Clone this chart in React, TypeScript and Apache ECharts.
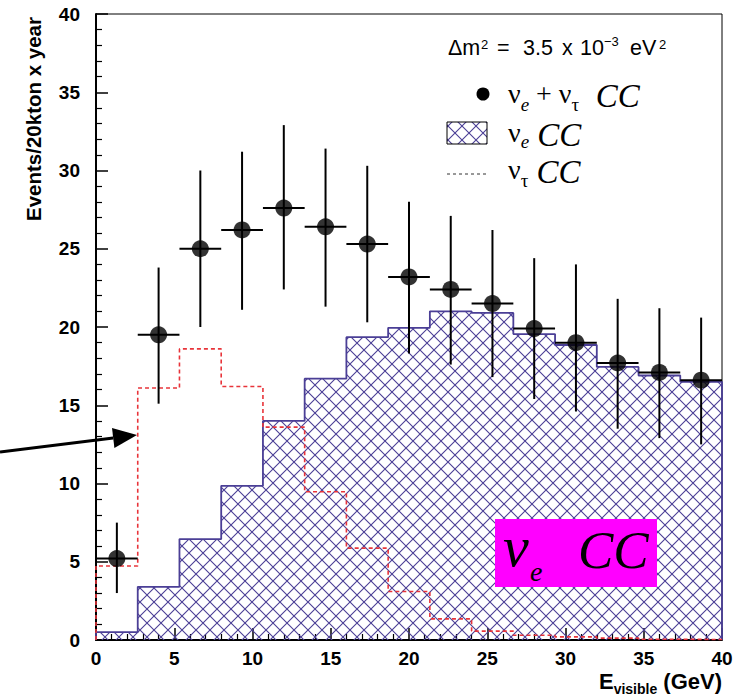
import React, { useEffect, useRef } from "react";
import * as echarts from "echarts";

// Bin structure (E_visible, GeV): 15 bins from 0 to 40
const binEdges = [0, 2.667, 5.333, 8, 10.667, 13.333, 16, 18.667, 21.333, 24, 26.667, 29.333, 32, 34.667, 37.333, 40];
const binCenters = [1.333, 4, 6.667, 9.333, 12, 14.667, 17.333, 20, 22.667, 25.333, 28, 30.667, 33.333, 36, 38.667];

// nu_e + nu_tau CC (points with error bars)
const totalValues = [5.2, 19.5, 25.0, 26.2, 27.6, 26.4, 25.3, 23.2, 22.4, 21.5, 19.9, 19.0, 17.7, 17.1, 16.6];
const totalErrLow = [3.0, 15.1, 20.0, 21.1, 22.4, 21.3, 20.3, 18.3, 17.6, 16.8, 15.4, 14.6, 13.5, 12.9, 12.5];
const totalErrHigh = [7.5, 23.8, 30.0, 31.2, 32.9, 31.4, 30.3, 28.0, 27.1, 26.2, 24.4, 24.0, 21.8, 21.2, 20.6];

// nu_e CC (hatched histogram)
const nueCC = [0.5, 3.4, 6.45, 9.85, 14.0, 16.7, 19.35, 19.95, 21.0, 20.9, 19.55, 18.85, 17.45, 16.9, 16.5];
// nu_tau CC (red dashed histogram)
const nutauCC = [4.73, 16.1, 18.6, 16.2, 13.6, 9.47, 5.87, 3.1, 1.35, 0.57, 0.3, 0.2, 0.12, 0.05, 0.03];

const xTicks = [0, 5, 10, 15, 20, 25, 30, 35, 40];
const yTicks = [0, 5, 10, 15, 20, 25, 30, 35, 40];

const HATCH = "#4b3f96";
const RED = "#e8343a";

function stepData(vals: number[]) {
  const d: number[][] = [[binEdges[0], 0]];
  vals.forEach((v, i) => d.push([binEdges[i], v]));
  d.push([binEdges[binEdges.length - 1], vals[vals.length - 1]]);
  d.push([binEdges[binEdges.length - 1], 0]);
  return d;
}

function makeHatch() {
  const s = 14;
  const c = document.createElement("canvas");
  c.width = s;
  c.height = s;
  const ctx = c.getContext("2d")!;
  ctx.strokeStyle = HATCH;
  ctx.lineWidth = 1.1;
  for (const o of [-s, 0, s]) {
    ctx.beginPath();
    ctx.moveTo(o, 0);
    ctx.lineTo(o + s, s);
    ctx.moveTo(o, s);
    ctx.lineTo(o + s, 0);
    ctx.stroke();
  }
  return c;
}

export default function App() {
  const ref = useRef<HTMLDivElement>(null);
  useEffect(() => {
    document.body.style.margin = "0";
    const chart = echarts.init(ref.current!, undefined, { renderer: "svg" });
    const hatchCanvas = makeHatch();
    const pattern: any = { image: hatchCanvas, repeat: "repeat", imageWidth: 14, imageHeight: 14 };

    const errData = binCenters.map((x, i) => [x, totalValues[i], totalErrLow[i], totalErrHigh[i], binEdges[i], binEdges[i + 1]]);
    const pointData = binCenters.map((x, i) => [x, totalValues[i]]);

    const serif = "'Liberation Serif', 'Times New Roman', serif";
    const sans = "'Liberation Sans', Arial, sans-serif";

    const legendRich = {
      n: { fontFamily: serif, fontSize: 28, lineHeight: 28, verticalAlign: "top", color: "#000" },
      s: { fontFamily: serif, fontStyle: "italic", fontSize: 19, lineHeight: 46, color: "#000" },
      g: { fontFamily: serif, fontSize: 19, lineHeight: 50, color: "#000" },
      c: { fontFamily: serif, fontStyle: "italic", fontSize: 33, lineHeight: 28, verticalAlign: "top", color: "#000" },
    };

    const dmTokens: [string, number, number, number][] = [
      ["Δm", 448, 47.5, 21.5],
      ["2", 481, 44, 13],
      ["=", 497, 47.5, 21.5],
      ["3.5", 523, 47.5, 21.5],
      ["x", 562, 47.5, 21.5],
      ["10", 580, 47.5, 21.5],
      ["−3", 604, 41.5, 13],
      ["eV", 630, 47.5, 21.5],
      ["2", 659, 44, 13],
    ];

    const arrowTip = [137, 435];
    const arrowBaseC = [113.2, 438];

    const option: any = {
      animation: false,
      backgroundColor: "#fff",
      grid: { left: 96, right: 20, top: 14, bottom: 58, show: true, borderColor: "#000", borderWidth: 1, backgroundColor: "transparent" },
      xAxis: {
        type: "value",
        min: 0,
        max: 40,
        interval: 5,
        axisLine: { show: true, lineStyle: { color: "#000", width: 2 } },
        axisTick: { show: true, inside: true, length: 12, lineStyle: { color: "#000", width: 1.5 } },
        minorTick: { show: true, splitNumber: 5, length: 6, lineStyle: { color: "#000", width: 1.2 } },
        splitLine: { show: false },
        axisLabel: {
          color: "#000",
          fontWeight: "bold",
          fontSize: 19,
          lineHeight: 19,
          fontFamily: sans,
          margin: 9,
          formatter: (v: number) => (xTicks.includes(v) ? String(v) : ""),
        },
      },
      yAxis: {
        type: "value",
        min: 0,
        max: 40,
        interval: 5,
        axisLine: { show: true, lineStyle: { color: "#000", width: 2 } },
        axisTick: { show: true, inside: true, length: 12, lineStyle: { color: "#000", width: 1.5 } },
        minorTick: { show: true, splitNumber: 5, length: 6, lineStyle: { color: "#000", width: 1.2 } },
        splitLine: { show: false },
        axisLabel: {
          color: "#000",
          fontWeight: "bold",
          fontSize: 19,
          fontFamily: sans,
          margin: 16,
          formatter: (v: number) => (yTicks.includes(v) ? String(v) : ""),
        },
      },
      series: [
        {
          name: "nue",
          type: "line",
          step: "end",
          data: stepData(nueCC),
          symbol: "none",
          showSymbol: false,
          lineStyle: { color: HATCH, width: 1.8 },
          areaStyle: { color: pattern, opacity: 1 },
          z: 2,
        },
        {
          name: "nutau",
          type: "line",
          step: "end",
          data: stepData(nutauCC),
          symbol: "none",
          showSymbol: false,
          lineStyle: { color: RED, width: 1.6, type: [4, 3] },
          z: 3,
        },
        {
          name: "err",
          type: "custom",
          data: errData,
          z: 4,
          renderItem: (params: any, api: any) => {
            const xc = api.value(0), y = api.value(1), lo = api.value(2), hi = api.value(3), xl = api.value(4), xr = api.value(5);
            const pLo = api.coord([xc, lo]);
            const pHi = api.coord([xc, hi]);
            const pL = api.coord([xl, y]);
            const pR = api.coord([xr, y]);
            return {
              type: "group",
              children: [
                { type: "line", shape: { x1: pLo[0], y1: pLo[1], x2: pHi[0], y2: pHi[1] }, style: { stroke: "#000", lineWidth: 2 } },
                { type: "line", shape: { x1: pL[0], y1: pL[1], x2: pR[0], y2: pR[1] }, style: { stroke: "#000", lineWidth: 2 } },
              ],
            };
          },
        },
        {
          name: "pts",
          type: "scatter",
          data: pointData,
          symbol: "circle",
          symbolSize: 17,
          itemStyle: { color: "#000" },
          z: 5,
        },
      ],
      graphic: [
        // y-axis title
        {
          type: "text",
          x: 33,
          y: 17,
          rotation: Math.PI / 2,
          style: { text: "Events/20kton x year", font: `bold 20.5px ${sans}`, fill: "#000", align: "right", verticalAlign: "middle" },
        },
        // x-axis title
        {
          type: "text",
          x: 722,
          y: 670,
          style: {
            text: "{m|E}{s|visible}{m| (GeV)}",
            align: "right",
            verticalAlign: "top",
            rich: {
              m: { fontFamily: sans, fontWeight: "bold", fontSize: 22, lineHeight: 22, verticalAlign: "top", fill: "#000" },
              s: { fontFamily: sans, fontWeight: "bold", fontSize: 14, lineHeight: 38, fill: "#000" },
            },
          },
        },
        // Δm² text tokens
        ...dmTokens.map(([t, x, y, fs]) => ({
          type: "text",
          x,
          y,
          style: { text: t, font: `${fs}px ${sans}`, fill: "#000", verticalAlign: "middle" },
        })),
        // legend entries
        { type: "circle", shape: { cx: 483, cy: 94, r: 6.5 }, style: { fill: "#000" } },
        {
          type: "text",
          x: 508,
          y: 79,
          style: { text: "{n|ν}{s|e}{n| + ν}{g|τ}{c|  CC}", verticalAlign: "top", rich: legendRich },
        },
        { type: "rect", shape: { x: 447, y: 122, width: 40, height: 22 }, style: { fill: pattern, stroke: "#000", lineWidth: 1 } },
        {
          type: "text",
          x: 508,
          y: 118,
          style: { text: "{n|ν}{s|e}{c| CC}", verticalAlign: "top", rich: legendRich },
        },
        { type: "line", shape: { x1: 447, y1: 174, x2: 487, y2: 174 }, style: { stroke: "#333", lineWidth: 1, lineDash: [3, 3] } },
        {
          type: "text",
          x: 508,
          y: 155,
          style: { text: "{n|ν}{g|τ}{c| CC}", verticalAlign: "top", rich: legendRich },
        },
        // magenta label box
        { type: "rect", shape: { x: 495, y: 519, width: 162, height: 68 }, style: { fill: "#ff00ff" }, z: 10 },
        {
          type: "text",
          x: 503,
          y: 546,
          z: 11,
          style: { text: "ν", font: `italic 58px ${serif}`, fill: "#000", verticalAlign: "middle" },
        },
        {
          type: "text",
          x: 530,
          y: 571,
          z: 11,
          style: { text: "e", font: `italic 28px ${serif}`, fill: "#000", verticalAlign: "middle" },
        },
        {
          type: "text",
          x: 578,
          y: 550,
          z: 11,
          style: { text: "CC", font: `italic 53px ${serif}`, fill: "#000", verticalAlign: "middle" },
        },
        // arrow
        {
          type: "line",
          z: 12,
          shape: { x1: 0, y1: 452, x2: arrowBaseC[0], y2: arrowBaseC[1] },
          style: { stroke: "#000", lineWidth: 3 },
        },
        {
          type: "polygon",
          z: 12,
          shape: { points: [arrowTip, [114.4, 447.9], [112.0, 428.1]] },
          style: { fill: "#000" },
        },
      ],
    };
    chart.setOption(option);
    return () => chart.dispose();
  }, []);
  return <div ref={ref} style={{ position: "fixed", left: 0, top: 0, width: 742, height: 698 }} />;
}
